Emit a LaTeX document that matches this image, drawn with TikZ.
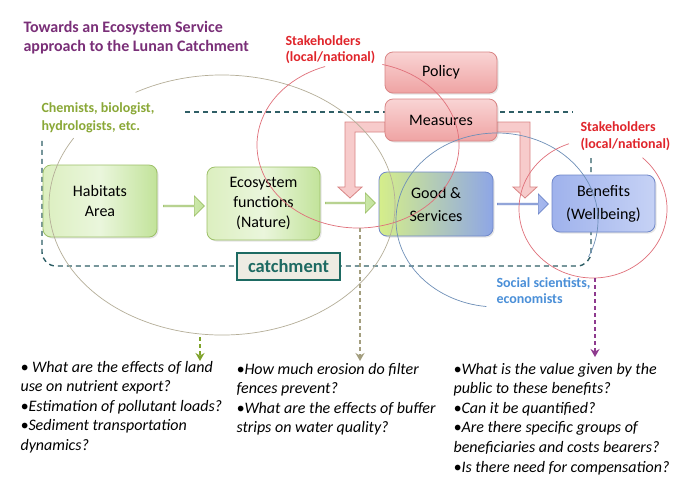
\documentclass[tikz,border=0pt]{standalone}
\usepackage{fontspec}
\setmainfont{Carlito}
\usetikzlibrary{shapes.arrows,shadows,arrows.meta}

\definecolor{titlecol}{HTML}{7A2F78}
\definecolor{stakecol}{HTML}{E0252B}
\definecolor{chemcol}{HTML}{8AA837}
\definecolor{sociocol}{HTML}{4A8FD8}
\definecolor{catchcol}{HTML}{1D6A62}
\definecolor{catchline}{HTML}{2F5F66}
\definecolor{catchfill}{HTML}{EEECE3}
\definecolor{greenline}{HTML}{9DC068}
\definecolor{greenleft}{HTML}{DCEFC0}
\definecolor{greenmid}{HTML}{EAF6DC}
\definecolor{greenright}{HTML}{C2E39A}
\definecolor{pinkline}{HTML}{D98585}
\definecolor{pinktop}{HTML}{F9D4D4}
\definecolor{pinkbottom}{HTML}{EFA3A3}
\definecolor{pinkfill}{HTML}{F7CBCB}
\definecolor{blueline}{HTML}{6F87C9}
\definecolor{blueleft}{HTML}{9FB2EC}
\definecolor{blueright}{HTML}{C6D2F5}
\definecolor{goodsleft}{HTML}{D5EE8A}
\definecolor{goodsright}{HTML}{8EA6E6}
\definecolor{ringgrey}{HTML}{B5AE98}
\definecolor{ringred}{HTML}{E0707A}
\definecolor{ringblue}{HTML}{6E8FB8}
\definecolor{probegreen}{HTML}{7FA32A}
\definecolor{probetan}{HTML}{A39E7E}
\definecolor{probepurple}{HTML}{8E3A8E}

\begin{document}
\begin{tikzpicture}[x=1pt, y=-1pt,
        box/.style={draw, rounded corners=8pt, line width=0.8pt, align=center, inner sep=0pt, font=\fontsize{16}{20}\selectfont, drop shadow={opacity=0.2, shadow xshift=1.5pt, shadow yshift=-1.5pt}},
        greenbox/.style={box, draw=greenline, left color=greenleft, right color=greenright, middle color=greenmid},
        pinkbox/.style={box, draw=pinkline, top color=pinktop, bottom color=pinkbottom, minimum width=112pt},
        goodsbox/.style={box, draw=blueline, left color=goodsleft, right color=goodsright, font=\fontsize{16}{23}\selectfont},
        bluebox/.style={box, draw=blueline, left color=blueleft, right color=blueright, font=\fontsize{16}{23}\selectfont},
        flow/.style={single arrow, single arrow head extend=4.5pt, minimum width=20pt, inner sep=0pt, line width=0.7pt},
        greenflow/.style={flow, draw=greenline, left color=greenmid, right color=greenright},
        blueflow/.style={flow, draw=blueline, left color=blueright, right color=blueleft},
        elbow/.style={draw=pinkline, fill=pinkfill, line width=0.8pt},
        catch/.style={draw=catchline, dashed, dash pattern=on 5pt off 4pt, line width=1.4pt},
        ring/.style={line width=0.7pt},
        probe/.style={dash pattern=on 4pt off 3pt, line width=1.8pt, ->},
        lbl/.style={anchor=base west, align=left, font=\bfseries\fontsize{14}{17}\selectfont},
        question/.style={anchor=base west, align=left, font=\itshape\fontsize{16}{19.6}\selectfont},
        >={Stealth[length=8pt, width=9pt]}
    ]
        \fill[white] (0,0) rectangle (700,491);
        \useasboundingbox (0,0) rectangle (700,491);

        % catchment boundary
        \draw[catch] (185,112) -- (573,112);
        \draw[catch, rounded corners=14pt] (591,158) -- (591,266) -- (42,266) -- (42,138);

        % policy and measures
        \node[pinkbox, minimum height=41pt] (policy) at (441,72.5) {Policy};
        \draw[elbow] ([yshift=-2pt]441,120) ++(-56,0) -- ++(-40,0) -- ++(0,65) -- ++(-7,0) -- ++(12,11) -- ++(12,-11) -- ++(-7,0) -- ++(0,-55) -- ++(30,0) -- cycle;
        \draw[elbow] ([yshift=-2pt]441,120) ++(56,0) -- ++(33,0) -- ++(0,65) -- ++(7,0) -- ++(-12,11) -- ++(-12,-11) -- ++(7,0) -- ++(0,-55) -- ++(-23,0) -- cycle;
        \node[pinkbox, minimum height=42pt] (measures) at (441,120) {Measures};

        % main chain
        \node[greenbox, minimum width=114pt, minimum height=72pt] (habitats) at (100,201) {Habitats\\Area};
        \node[greenbox, minimum width=113pt, minimum height=73pt] (ecofun) at (263.5,203.5) {Ecosystem\\functions\\(Nature)};
        \node[goodsbox, minimum width=114pt, minimum height=64pt] (goods) at (436,204) {Good \&\\Services};
        \node[bluebox, minimum width=103pt, minimum height=57pt] (benefits) at (603.5,203.5) {Benefits\\(Wellbeing)};

        \node[greenflow, minimum height=41pt] (hab2eco) at (183.5,206) {};
        \node[greenflow, minimum height=50pt] (eco2goods) at (350,203) {};
        \node[blueflow, minimum height=51pt] (goods2ben) at (522.5,204) {};

        \node[draw=catchcol, line width=1.8pt, fill=catchfill, minimum width=103pt, minimum height=27pt, inner sep=0pt, text=catchcol, font=\bfseries\fontsize{18.5}{20}\selectfont] (catchment) at (288.5,266.5) {catchment};

        % disciplines
        \draw[ring, ringgrey] (222,205) ++(240:173 and 130) arc[start angle=240, end angle=571, x radius=173, y radius=130];
        \draw[ring, ringred] (358,145) ++(284:101 and 83) arc[start angle=284, end angle=611, x radius=101, y radius=83];
        \draw[ring, ringblue] (497,220) ++(96:101 and 87) arc[start angle=96, end angle=385, x radius=101, y radius=87];
        \draw[ring, ringred] (593,209) ++(312:74 and 69) arc[start angle=312, end angle=611, x radius=74, y radius=69];

        % labels (base = last line)
        \node[lbl, text=titlecol, font=\bfseries\fontsize{16}{19}\selectfont] (title) at (20,51) {Towards an Ecosystem Service\\approach to the Lunan Catchment};
        \node[lbl, text=chemcol, font=\bfseries\fontsize{14}{18}\selectfont] (chemists) at (38,130) {Chemists, biologist,\\hydrologists, etc.};
        \node[lbl, text=stakecol, font=\bfseries\fontsize{14}{16}\selectfont] (stakeleft) at (282,61) {Stakeholders\\(local/national)};
        \node[lbl, text=stakecol] (stakeright) at (577,148) {Stakeholders\\(local/national)};
        \node[lbl, text=sociocol, font=\bfseries\fontsize{14}{16}\selectfont] (socio) at (493,303) {Social scientists,\\economists};

        % questions
        \node[question] (qnat) at (17,450.4) {• What are the effects of land\\use on nutrient export?\\•Estimation of pollutant loads?\\•Sediment transportation\\dynamics?};
        \node[question] (qmeas) at (233,432.8) {•How much erosion do filter\\fences prevent?\\•What are the effects of buffer\\strips on water quality?};
        \node[question] (qben) at (450,472) {•What is the value given by the\\public to these benefits?\\•Can it be quantified?\\•Are there specific groups of\\beneficiaries and costs bearers?\\•Is there need for compensation?};

        \coordinate (natfrom) at (200,337);
        \coordinate (natto) at (200,361);
        \coordinate (measfrom) at (360,228);
        \coordinate (measto) at (360,361);
        \coordinate (benfrom) at (595,278);
        \coordinate (bento) at (595,357);
        \draw[probe, probegreen] (natfrom) -- (natto);
        \draw[probe, probetan] (measfrom) -- (measto);
        \draw[probe, probepurple] (benfrom) -- (bento);
    \end{tikzpicture}
\end{document}
